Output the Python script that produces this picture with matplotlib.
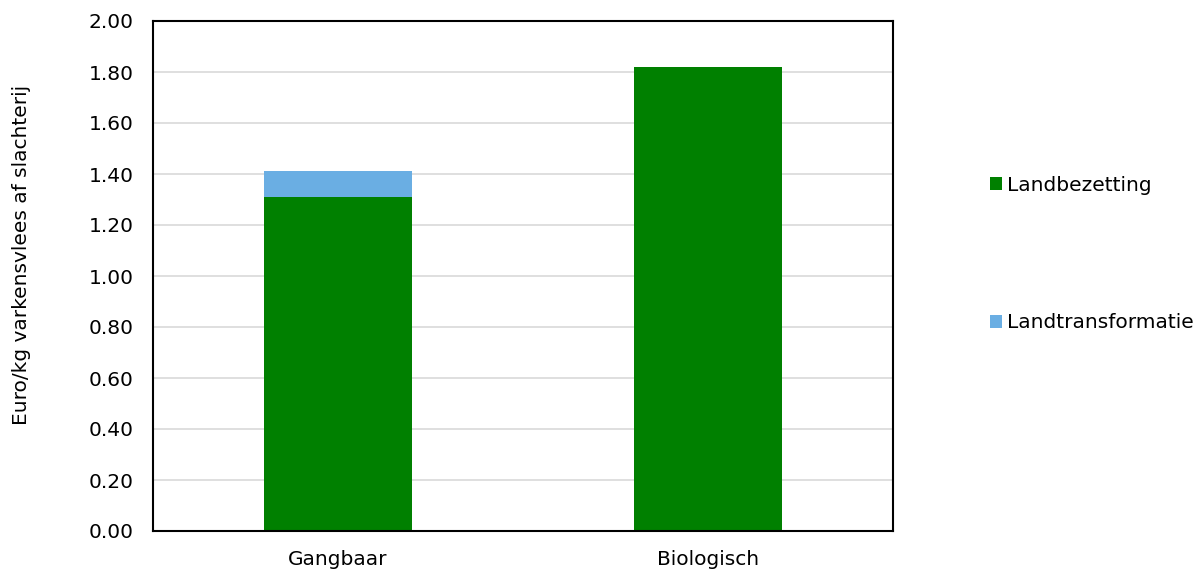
import matplotlib.pyplot as plt

# Kosten per kg varkensvlees af slachterij
categories = ["Gangbaar", "Biologisch"]
landbezetting = [1.31, 1.82]
landtransformatie = [0.10, 0.00]
yticks = [0.0, 0.2, 0.4, 0.6, 0.8, 1.0, 1.2, 1.4, 1.6, 1.8, 2.0]

green = "#008000"
blue = "#6AAEE3"
fs = 14.5

plt.rcParams["font.family"] = "DejaVu Sans"

fig = plt.figure(figsize=(12.04, 5.71), dpi=100)
ax = fig.add_axes([153 / 1204, 1 - 531 / 571, 740 / 1204, 510 / 571])

x = range(len(categories))
ax.bar(x, landbezetting, width=0.4, color=green, label="Landbezetting", zorder=3)
ax.bar(x, landtransformatie, width=0.4, bottom=landbezetting, color=blue,
       label="Landtransformatie", zorder=3)

ax.set_xlim(-0.5, 1.5)
ax.set_ylim(0, 2.0)
ax.set_yticks(yticks)
ax.set_yticklabels([f"{v:.2f}" for v in yticks], fontsize=fs)
ax.set_xticks(list(x))
ax.set_xticklabels(categories, fontsize=fs)
ax.tick_params(length=0, pad=14)
ax.grid(axis="y", color="#d9d9d9", linewidth=1.2, zorder=0)
for s in ax.spines.values():
    s.set_linewidth(1.5)
    s.set_color("black")
    s.set_zorder(4)

fig.text(22 / 1204, 1 - 255 / 571, "Euro/kg varkensvlees af slachterij",
         rotation=90, ha="center", va="center", fontsize=fs)

# Legenda rechts, ver uit elkaar
handles, labels = ax.get_legend_handles_labels()
fig.legend(handles, labels, loc="center left", bbox_to_anchor=(990 / 1204, 1 - 254 / 571),
           frameon=False, fontsize=fs, handlelength=0.6, handleheight=0.6,
           handletextpad=0.25, labelspacing=5.9, borderpad=0, borderaxespad=0)

fig.savefig("out.png", dpi=100)
